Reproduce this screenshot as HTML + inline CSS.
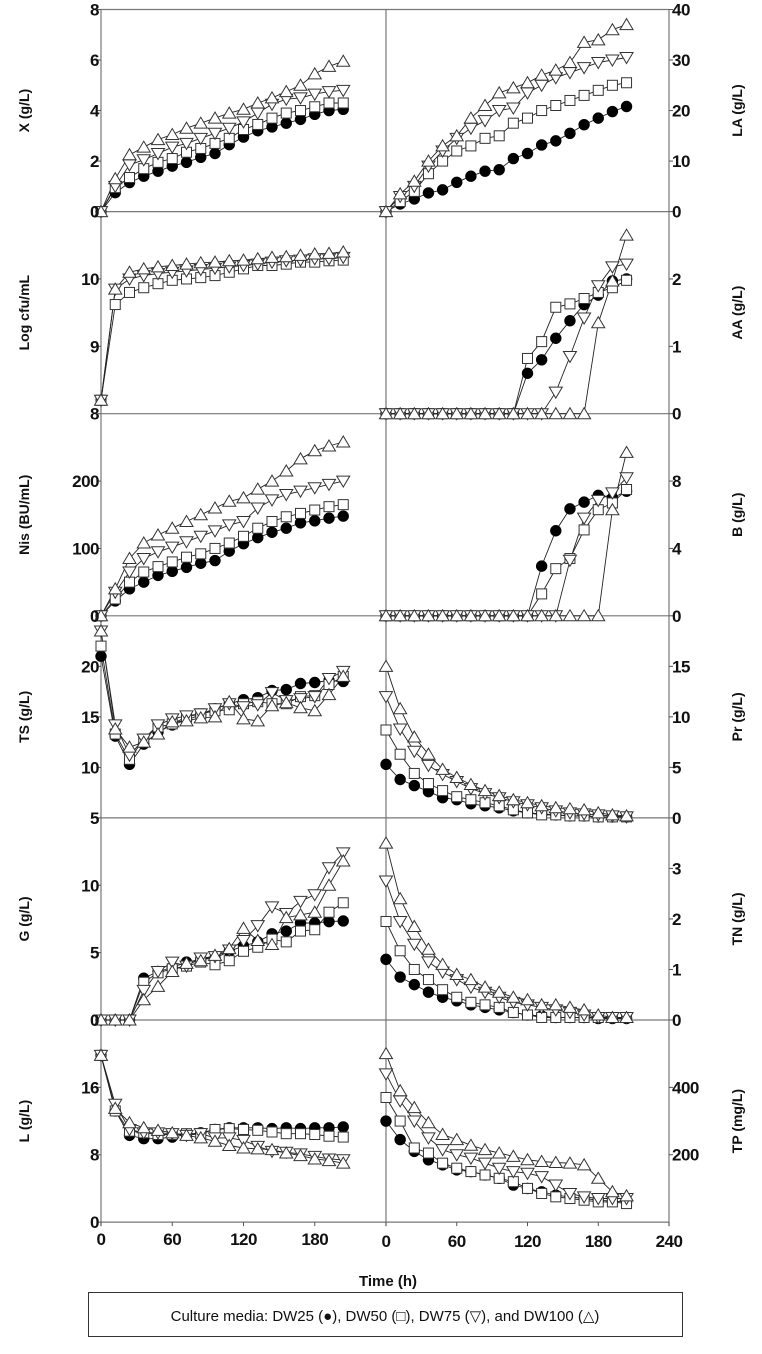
<!DOCTYPE html>
<html><head><meta charset="utf-8"><style>
html,body{margin:0;padding:0;background:#fff;}
svg text{font-family:"Liberation Sans",Arial,sans-serif;}
.tk{font-weight:bold;font-size:17px;fill:#111;letter-spacing:-0.5px;}
.ttl{font-weight:bold;font-size:14px;fill:#111;}
</style></head><body>
<svg id="chart" width="762" height="1349" viewBox="0 0 762 1349" xmlns="http://www.w3.org/2000/svg">
<g id="grid"></g>
<g id="marks"></g>
<g id="labels"></g>
<text x="388" y="1286" text-anchor="middle" class="ttl" style="font-size:15px">Time (h)</text>
<rect x="88.5" y="1292.5" width="594" height="44" fill="none" stroke="#333"/>
<text x="385" y="1321" text-anchor="middle" style="font-size:15px;fill:#111">Culture media: DW25 (●), DW50 (□), DW75 (▽), and DW100 (△)</text>
</svg>
<script>
// time points (h)
const times = [0,12,24,36,48,60,72,84,96,108,120,132,144,156,168,180,192,204];
// X (g/L)
const X_dw25 = [0,0.75,1.15,1.4,1.6,1.8,1.95,2.15,2.3,2.65,2.95,3.2,3.35,3.5,3.65,3.85,4.0,4.05];
const X_dw50 = [0,0.95,1.35,1.7,1.95,2.1,2.35,2.5,2.7,2.9,3.25,3.45,3.7,3.9,4.0,4.15,4.3,4.3];
const X_dw75 = [0,1.0,1.85,2.05,2.3,2.55,2.7,2.9,3.1,3.3,3.55,3.9,4.25,4.45,4.5,4.65,4.75,4.8];
const X_dw100 = [0,1.3,2.25,2.55,2.85,3.05,3.3,3.5,3.7,3.9,4.05,4.3,4.5,4.75,5.0,5.45,5.75,5.95];
// LA (g/L)
const LA_dw25 = [0,1.5,2.5,3.7,4.3,5.8,7,8,8.3,10.5,11.5,13.2,14,15.5,17.2,18.5,19.8,20.8];
const LA_dw50 = [0,2,4,7.5,10,12,13,14.5,15,17.5,18.5,20,21,22,23,24,25,25.5];
const LA_dw75 = [0,3,5,9,12,14.5,16.5,18,20,20.5,23.5,25,26.5,27.5,28.5,29.5,30,30.5];
const LA_dw100 = [0,3.5,6,10,13,15,18.5,21,23.5,24.5,25.5,27,28,29.5,33.5,34,36,37];
// Log cfu/mL
const LOG_dw50 = [8.2,9.62,9.8,9.87,9.93,9.98,10.0,10.02,10.05,10.1,10.15,10.2,10.2,10.22,10.25,10.25,10.27,10.28];
const LOG_dw75 = [8.2,9.85,10.0,10.05,10.08,10.1,10.12,10.14,10.16,10.18,10.2,10.22,10.25,10.27,10.28,10.3,10.3,10.32];
const LOG_dw100 = [8.2,9.85,10.1,10.15,10.18,10.2,10.22,10.24,10.25,10.27,10.28,10.3,10.32,10.33,10.35,10.37,10.38,10.4];
// AA (g/L)
const AA_dw25 = [0,0,0,0,0,0,0,0,0,0,0.6,0.8,1.12,1.38,1.62,1.76,1.97,2.0];
const AA_dw50 = [0,0,0,0,0,0,0,0,0,0,0.82,1.07,1.58,1.63,1.71,1.8,1.87,1.98];
const AA_dw75 = [0,0,0,0,0,0,0,0,0,0,0,0,0.32,0.85,1.42,1.9,2.18,2.22];
const AA_dw100 = [0,0,0,0,0,0,0,0,0,0,0,0,0,0,0,1.35,1.97,2.65];
// Nis (BU/mL)
const NIS_dw25 = [0,22,40,50,60,66,72,78,82,96,107,116,124,130,138,141,145,148];
const NIS_dw50 = [0,25,50,65,73,80,87,92,100,108,118,130,140,147,152,157,162,165];
const NIS_dw75 = [0,35,65,85,95,102,110,118,126,135,140,160,172,180,185,190,195,200];
const NIS_dw100 = [0,40,85,108,120,130,140,150,160,170,175,188,200,215,233,245,252,258];
// B (g/L)
const B_dw25 = [0,0,0,0,0,0,0,0,0,0,0,2.95,5.05,6.35,6.75,7.15,7.0,7.4];
const B_dw50 = [0,0,0,0,0,0,0,0,0,0,0,1.3,2.8,3.4,5.1,6.3,6.7,7.5];
const B_dw75 = [0,0,0,0,0,0,0,0,0,0,0,0,0,3.3,5.8,6.85,7.3,8.2];
const B_dw100 = [0,0,0,0,0,0,0,0,0,0,0,0,0,0,0,0,6.3,9.7];
// TS (g/L)
const TS_dw25 = [21,13.1,10.3,12.3,13.5,14.2,14.7,15.2,15.8,16.3,16.7,16.9,17.6,17.7,18.3,18.4,18.6,18.5];
const TS_dw50 = [22,13.3,10.8,12.8,14.0,14.3,15.0,15.3,15.6,15.7,16.3,16.5,16.3,16.3,17.0,17.1,18.2,19.0];
const TS_dw75 = [23.5,14.2,11.2,12.8,14.2,14.8,15.1,15.3,15.8,16.3,16.0,16.2,17.4,16.6,16.8,17.0,18.8,19.5];
const TS_dw100 = [23.5,13.8,12.0,12.5,13.3,14.5,14.6,14.9,15.0,16.5,14.8,14.6,16.1,16.4,15.9,15.6,17.2,19.0];
// Pr (g/L)
const PR_dw25 = [5.3,3.8,3.2,2.6,2.0,1.8,1.4,1.2,1.0,0.7,0.5,0.4,0.3,0.2,0.2,0.1,0.1,0.1];
const PR_dw50 = [8.7,6.3,4.4,3.4,2.7,2.1,1.8,1.5,1.2,0.8,0.5,0.3,0.3,0.2,0.2,0.1,0.1,0.1];
const PR_dw75 = [12,8.8,6.6,5.2,4.3,3.6,2.9,2.4,2.0,1.6,1.3,1.0,0.7,0.5,0.4,0.3,0.2,0.1];
const PR_dw100 = [15,10.8,8.0,6.3,4.8,4.0,3.3,2.7,2.2,1.8,1.5,1.2,1.0,0.9,0.8,0.5,0.3,0.2];
// G (g/L)
const G_dw25 = [0,0,0,3.1,3.6,3.9,4.3,4.5,4.6,5.1,5.5,5.8,6.4,6.6,7.2,7.2,7.3,7.35];
const G_dw50 = [0,0,0,2.8,3.5,3.8,4.0,4.3,4.1,4.4,5.1,5.4,6.0,5.8,6.6,6.7,8.0,8.7];
const G_dw75 = [0,0,0,2.2,3.6,4.3,4.0,4.6,4.7,5.2,5.9,7.0,8.4,7.9,8.8,9.3,11.3,12.4];
const G_dw100 = [0,0,0,1.5,2.5,3.6,4.2,4.4,4.8,5.3,6.8,5.9,5.6,7.6,7.8,8.0,10.0,11.8];
// TN (g/L)
const TN_dw25 = [1.2,0.85,0.7,0.55,0.45,0.38,0.3,0.25,0.2,0.15,0.1,0.08,0.05,0.05,0.05,0.03,0.03,0.03];
const TN_dw50 = [1.95,1.37,1.0,0.8,0.6,0.45,0.35,0.3,0.25,0.15,0.1,0.05,0.05,0.05,0.05,0.05,0.05,0.05];
const TN_dw75 = [2.75,1.95,1.5,1.15,0.95,0.8,0.65,0.55,0.45,0.35,0.3,0.25,0.2,0.15,0.1,0.05,0.05,0.05];
const TN_dw100 = [3.5,2.4,1.85,1.4,1.1,0.9,0.8,0.65,0.55,0.45,0.4,0.3,0.3,0.25,0.2,0.1,0.05,0.05];
// L (g/L)
const L_dw25 = [19.8,13.2,10.3,9.9,9.9,10.1,10.4,10.6,11.0,11.2,11.2,11.2,11.1,11.2,11.1,11.2,11.2,11.3];
const L_dw50 = [19.8,13.2,10.8,10.6,10.4,10.4,10.5,10.5,11.0,11.1,11.0,10.9,10.7,10.5,10.5,10.4,10.2,10.1];
const L_dw75 = [19.8,14.0,11.0,10.6,10.6,10.5,10.3,10.5,10.0,10.0,9.7,9.0,8.4,8.3,8.1,7.8,7.5,7.4];
const L_dw100 = [19.8,13.5,11.8,11.2,10.9,10.6,10.3,10.0,9.6,9.1,8.8,8.7,8.6,8.2,7.9,7.5,7.3,7.0];
// TP (mg/L)
const TP_dw25 = [300,245,210,185,170,155,150,140,130,110,100,90,80,75,70,65,62,60];
const TP_dw50 = [370,300,220,205,175,160,150,140,130,120,100,85,75,70,65,60,60,55];
const TP_dw75 = [440,360,300,250,215,200,190,175,160,150,145,135,110,85,75,70,70,70];
const TP_dw100 = [500,390,340,295,260,245,228,215,205,195,185,180,177,175,170,130,90,78];

// tick label arrays
const xTicksLeft = [0,60,120,180];
const xTicksRight = [0,60,120,180,240];

const NS='http://www.w3.org/2000/svg';
const XL0=101, XM=386, XR=669, TMAX=240;
const ROWTOP=9.5, ROWH=202.1;
function xLeft(t){return XL0+(XM-XL0)*t/TMAX;}
function xRight(t){return XM+(XR-XM)*t/TMAX;}
function mk(tag,attrs,parent){const e=document.createElementNS(NS,tag);for(const k in attrs)e.setAttribute(k,attrs[k]);parent.appendChild(e);return e;}
const grid=document.getElementById('grid'), marks=document.getElementById('marks'), labels=document.getElementById('labels');

const panels=[
 {row:0,side:'L',title:'X (g/L)',min:0,max:8,ticks:[0,2,4,6,8],labels:[0,2,4,6,8],series:[X_dw25,X_dw50,X_dw75,X_dw100]},
 {row:0,side:'R',title:'LA (g/L)',min:0,max:40,ticks:[0,10,20,30,40],labels:[0,10,20,30,40],series:[LA_dw25,LA_dw50,LA_dw75,LA_dw100]},
 {row:1,side:'L',title:'Log cfu/mL',min:8,max:11,ticks:[8,9,10],labels:[8,9,10],series:[null,LOG_dw50,LOG_dw75,LOG_dw100]},
 {row:1,side:'R',title:'AA (g/L)',min:0,max:3,ticks:[0,1,2],labels:[0,1,2],series:[AA_dw25,AA_dw50,AA_dw75,AA_dw100]},
 {row:2,side:'L',title:'Nis (BU/mL)',min:0,max:300,ticks:[0,100,200],labels:[0,100,200],series:[NIS_dw25,NIS_dw50,NIS_dw75,NIS_dw100]},
 {row:2,side:'R',title:'B (g/L)',min:0,max:12,ticks:[0,4,8],labels:[0,4,8],series:[B_dw25,B_dw50,B_dw75,B_dw100]},
 {row:3,side:'L',title:'TS (g/L)',min:5,max:25,ticks:[5,10,15,20],labels:[5,10,15,20],series:[TS_dw25,TS_dw50,TS_dw75,TS_dw100]},
 {row:3,side:'R',title:'Pr (g/L)',min:0,max:20,ticks:[0,5,10,15],labels:[0,5,10,15],series:[PR_dw25,PR_dw50,PR_dw75,PR_dw100]},
 {row:4,side:'L',title:'G (g/L)',min:0,max:15,ticks:[0,5,10],labels:[0,5,10],series:[G_dw25,G_dw50,G_dw75,G_dw100]},
 {row:4,side:'R',title:'TN (g/L)',min:0,max:4,ticks:[0,1,2,3],labels:[0,1,2,3],series:[TN_dw25,TN_dw50,TN_dw75,TN_dw100]},
 {row:5,side:'L',title:'L (g/L)',min:0,max:24,ticks:[0,8,16],labels:[0,8,16],series:[L_dw25,L_dw50,L_dw75,L_dw100]},
 {row:5,side:'R',title:'TP (mg/L)',min:0,max:600,ticks:[200,400],labels:[200,400],series:[TP_dw25,TP_dw50,TP_dw75,TP_dw100]}
];
const seriesNames=['dw25','dw50','dw75','dw100'];

// frame
for(let r=0;r<=6;r++){
  const y=ROWTOP+r*ROWH;
  const ln=mk('line',{x1:XL0,x2:XR,y1:y,y2:y,stroke:'#777','stroke-width':1.2},grid);
  
  
}
[XL0,XM,XR].forEach(x=>{
  const ln=mk('line',{x1:x,x2:x,y1:ROWTOP,y2:ROWTOP+6*ROWH+4,stroke:'#777','stroke-width':1.2},grid);
  
  
});
const yb=ROWTOP+6*ROWH;
xTicksLeft.forEach(t=>{
  const x=xLeft(t);
  mk('line',{x1:x,x2:x,y1:yb,y2:yb+4,stroke:'#555'},grid);
  const tx=mk('text',{x:x,y:yb+23,'text-anchor':'middle',class:'tk'},labels);tx.textContent=t;
  
  
});
xTicksRight.forEach(t=>{
  const x=xRight(t);
  mk('line',{x1:x,x2:x,y1:yb,y2:yb+4,stroke:'#555'},grid);
  const tx=mk('text',{x:x,y:yb+25,'text-anchor':'middle',class:'tk'},labels);tx.textContent=t;
  
  
});

function marker(kind,x,y,g){
  let e;
  if(kind===0){e=mk('circle',{cx:x,cy:y,r:5.2,fill:'#000',stroke:'#000'},g);}
  else if(kind===1){e=mk('rect',{x:x-5,y:y-5,width:10,height:10,fill:'#fff',stroke:'#333','stroke-width':1},g);}
  else if(kind===2){e=mk('polygon',{points:`${x-6.5},${y-5} ${x+6.5},${y-5} ${x},${y+6}`,fill:'#fff',stroke:'#333','stroke-width':1},g);}
  else {e=mk('polygon',{points:`${x-6.5},${y+5} ${x+6.5},${y+5} ${x},${y-6}`,fill:'#fff',stroke:'#333','stroke-width':1},g);}
  
  
}

panels.forEach(p=>{
  const top=ROWTOP+p.row*ROWH, bot=top+ROWH;
  const yS=v=>bot-(v-p.min)/(p.max-p.min)*ROWH;
  const xS=p.side==='L'?xLeft:xRight;
  const pg=mk('g',{},marks);
  
  
  p.ticks.forEach((v,i)=>{
    const y=yS(v);
    if(p.side==='L'){
      mk('line',{x1:XL0-4,x2:XL0,y1:y,y2:y,stroke:'#555'},grid);
      const tx=mk('text',{x:XL0-2,y:y+6,'text-anchor':'end',class:'tk'},labels);tx.textContent=p.labels[i];
      
      
    } else {
      mk('line',{x1:XR,x2:XR+4,y1:y,y2:y,stroke:'#555'},grid);
      const tx=mk('text',{x:XR+3,y:y+6,'text-anchor':'start',class:'tk'},labels);tx.textContent=p.labels[i];
      
      
    }
  });
  const cy=(top+bot)/2, cx=p.side==='L'?29:742;
  const tt=mk('text',{x:cx,y:cy,'text-anchor':'middle',class:'ttl',transform:`rotate(-90 ${cx} ${cy})`},labels);
  tt.textContent=p.title;
  
  
  p.series.forEach((s,k)=>{
    if(!s)return;
    const pts=s.map((v,i)=>`${xS(times[i]).toFixed(1)},${yS(v).toFixed(1)}`).join(' ');
    const pl=mk('polyline',{points:pts,fill:'none',stroke:'#222','stroke-width':0.9},pg);
    
    
  });
  p.series.forEach((s,k)=>{
    if(!s)return;
    s.forEach((v,i)=>marker(k,xS(times[i]),yS(v),pg));
  });
});
</script>
</body></html>
